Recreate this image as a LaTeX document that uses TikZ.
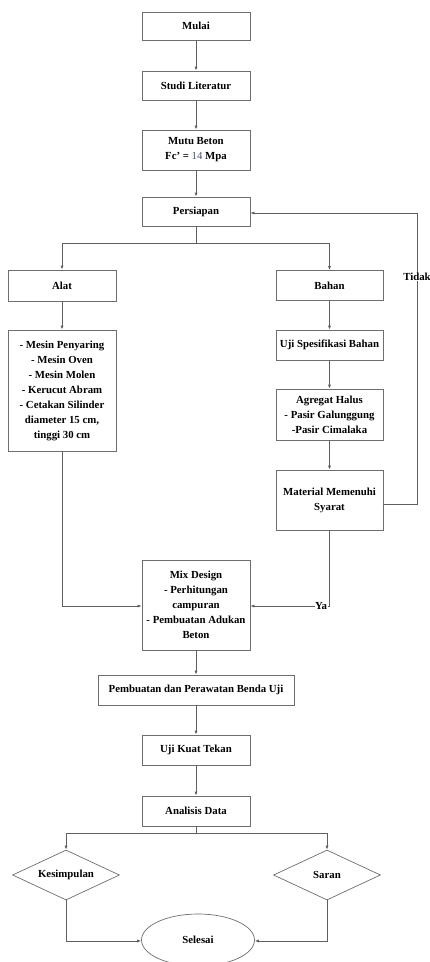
\documentclass[tikz,border=0pt]{standalone}
\usepackage{fontspec}
\setmainfont{Liberation Serif}
\usetikzlibrary{shapes.geometric,arrows.meta}
\definecolor{linegray}{RGB}{95,95,95}
\definecolor{boxgray}{RGB}{110,110,110}
\definecolor{numblue}{RGB}{70,80,120}
\tikzset{
  every node/.style={font=\fontsize{10.8pt}{15pt}\selectfont\bfseries, inner sep=1pt},
  box/.style={draw=boxgray, line width=0.8pt, rectangle, align=center, minimum width=108pt},
  dia/.style={draw=boxgray, line width=0.7pt, diamond, aspect=2.14, minimum width=107pt, minimum height=50pt, inner sep=0pt},
  oval/.style={draw=boxgray, line width=0.7pt, ellipse, minimum width=113pt, minimum height=52pt},
  conn/.style={draw=linegray, line width=0.8pt},
  arr/.style={conn, -{Latex[length=4pt,width=3.2pt]}},
  lbl/.style={fill=white, inner sep=0.5pt}
}
\begin{document}
\begin{tikzpicture}[x=1pt,y=-1pt]
\useasboundingbox (0,0) rectangle (430,962);
\fill[white] (0,0) rectangle (430,962);
% main column
\node[box, minimum height=28pt] (mulai) at (196,26) {Mulai};
\node[box, minimum height=29pt] (studi) at (196,85.5) {Studi Literatur};
\node[box, minimum height=40pt] (mutu) at (196,150) {Mutu Beton\\Fc' = {\mdseries\color{numblue}14} Mpa};
\node[box, minimum height=29pt] (pers) at (196,211.5) {Persiapan};
% left column
\node[box, minimum height=31pt] (alat) at (62,285.5) {Alat};
\node[box, minimum height=121pt] (list) at (62,390.5) {- Mesin Penyaring\\- Mesin Oven\\- Mesin Molen\\- Kerucut Abram\\- Cetakan Silinder\\diameter 15 cm,\\tinggi 30 cm};
% right column
\node[box, minimum width=107pt, minimum height=30pt] (bahan) at (329.5,285.5) {Bahan};
\node[box, minimum width=107pt, minimum height=30pt] (spes) at (329.5,345) {Uji Spesifikasi Bahan};
\node[box, minimum width=107pt, minimum height=51pt] (agr) at (329.5,414.5) {Agregat Halus\\- Pasir Galunggung\\-Pasir Cimalaka};
\node[box, minimum width=107pt, minimum height=60pt] (mat) at (329.5,500) {Material Memenuhi\\Syarat};
% lower column
\node[box, minimum height=90pt] (mix) at (196,605) {Mix Design\\- Perhitungan\\campuran\\- Pembuatan Adukan\\Beton};
\node[box, minimum width=196pt, minimum height=30pt] (buat) at (196,690) {Pembuatan dan Perawatan Benda Uji};
\node[box, minimum height=30pt] (kuat) at (196,750) {Uji Kuat Tekan};
\node[box, minimum height=30pt] (anal) at (196,811) {Analisis Data};
\node[dia] (kes) at (66,875) {Kesimpulan};
\node[dia] (sar) at (327,875) {Saran};
\node[oval] (sel) at (198,940) {Selesai};
% helper coordinates
\coordinate (split) at (196,243);
\coordinate (splitL) at (62,243);
\coordinate (splitR) at (329.5,243);
\coordinate (listdown) at (62,606);
\coordinate (yacorner) at (329.5,606);
\coordinate (tidakB) at (417,504);
\coordinate (tidakT) at (417,213);
\coordinate (split2) at (196,833);
\coordinate (split2L) at (66,833);
\coordinate (split2R) at (327,833);
\coordinate (kesdown) at (66,941);
\coordinate (sardown) at (327,941);
% connectors
\draw[arr] (mulai) -- (studi);
\draw[arr] (studi) -- (mutu);
\draw[arr] (mutu) -- (pers);
\draw[conn] (pers) -- (split);
\draw[arr] (split) -- (splitL) -- (alat);
\draw[arr] (split) -- (splitR) -- (bahan);
\draw[arr] (alat) -- (list);
\draw[arr] (list) -- (listdown) -- (mix.west |- listdown);
\draw[arr] (bahan) -- (spes);
\draw[arr] (spes) -- (agr);
\draw[arr] (agr) -- (mat);
\draw[arr] (mat) -- (yacorner) -- (mix.east |- yacorner);
\node[lbl] (ya) at (321,606) {Ya};
\draw[arr] (mat.east |- tidakB) -- (tidakB) -- (tidakT) -- (pers.east |- tidakT);
\node[lbl] (tidak) at (417,277) {Tidak};
\draw[arr] (mix) -- (buat);
\draw[arr] (buat) -- (kuat);
\draw[arr] (kuat) -- (anal);
\draw[conn] (anal) -- (split2);
\draw[arr] (split2) -- (split2L) -- (kes);
\draw[arr] (split2) -- (split2R) -- (sar);
\draw[arr] (kes) -- (kesdown) -- (sel.west |- kesdown);
\draw[arr] (sar) -- (sardown) -- (sel.east |- sardown);
\end{tikzpicture}
\end{document}
